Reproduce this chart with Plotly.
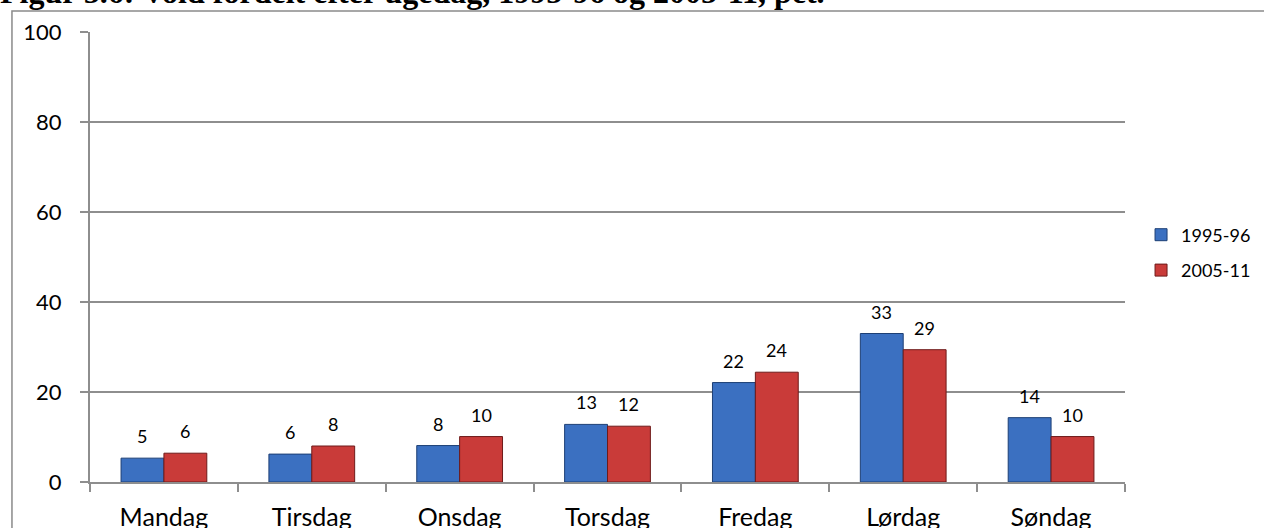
import plotly.graph_objects as go

categories = ["Mandag", "Tirsdag", "Onsdag", "Torsdag", "Fredag", "Lørdag", "Søndag"]
series_names = ["1995-96", "2005-11"]
values_1995 = [5.3, 6.2, 8.1, 12.8, 22.1, 33.0, 14.3]
values_2005 = [6.4, 8.0, 10.1, 12.4, 24.4, 29.4, 10.1]
y_ticks = [0, 20, 40, 60, 80, 100]
title_text = "Figur 5.6: Vold fordelt efter ugedag, 1995-96 og 2005-11, pct."

BARGAP = 0.42
FONT = "Lato, 'Open Sans', sans-serif"
GRID = "#8e8e8e"
fill_colors = ["#3b70c1", "#c93b39"]
line_colors = ["#1d3f75", "#6e1b1a"]

fig = go.Figure()
for name, vals, fc, lc in zip(series_names, [values_1995, values_2005], fill_colors, line_colors):
    fig.add_trace(go.Bar(
        x=categories, y=vals, name=name,
        marker=dict(color=fc, line=dict(color=lc, width=1)),
        legendgroup=name,
    ))

# data labels above each bar
half = (1 - BARGAP) / 4
annotations = []
for s, vals in enumerate([values_1995, values_2005]):
    for i, v in enumerate(vals):
        annotations.append(dict(
            x=i + (-half if s == 0 else half), y=v, xref="x", yref="y",
            text=f"{v:.0f}", showarrow=False, yanchor="bottom", yshift=9,
            font=dict(family=FONT, size=18, color="#000000"),
        ))

# title (partly clipped at top, like the reference)
annotations.append(dict(
    x=-0.089, y=1.0445, xref="paper", yref="paper", xanchor="left", yanchor="bottom",
    text=f"<b>{title_text}</b>", showarrow=False,
    font=dict(family="'Liberation Serif', 'Times New Roman', serif", size=32, color="#000000"),
))

fig.update_layout(
    width=1264, height=528,
    margin=dict(l=90, r=139, t=32, b=46, autoexpand=False),
    paper_bgcolor="white", plot_bgcolor="white",
    barmode="group", bargap=BARGAP, bargroupgap=0,
    font=dict(family=FONT, size=22, color="#000000"),
    showlegend=True,
    legend=dict(x=1.0155, y=0.51, xanchor="left", yanchor="middle",
                font=dict(family=FONT, size=18), tracegroupgap=9, itemwidth=30,
                bgcolor="rgba(0,0,0,0)"),
    annotations=annotations,
    shapes=[dict(type="rect", xref="paper", yref="paper",
                 x0=-0.0754, x1=1.3, y0=-0.4, y1=1.0467,
                 line=dict(color="#8a8a8a", width=1.5), fillcolor="rgba(0,0,0,0)")],
)
fig.update_xaxes(
    type="category", range=[-0.5, 6.5], tickson="boundaries", automargin=False,
    ticks="outside", ticklen=8, tickwidth=1.5, tickcolor=GRID,
    showline=True, linecolor=GRID, linewidth=2, showgrid=False,
    tickfont=dict(family=FONT, size=25), ticklabelstandoff=12,
)
fig.update_yaxes(
    range=[0, 100], tickvals=y_ticks, automargin=False,
    ticks="outside", ticklen=8, tickwidth=1.5, tickcolor=GRID,
    showline=True, linecolor=GRID, linewidth=2,
    showgrid=True, gridcolor=GRID, gridwidth=1.5, zeroline=False,
    tickfont=dict(family=FONT, size=22), ticklabelstandoff=14,
)

fig.write_html("out.html", config={"displayModeBar": False},
               post_script="document.body.style.margin='0';")
